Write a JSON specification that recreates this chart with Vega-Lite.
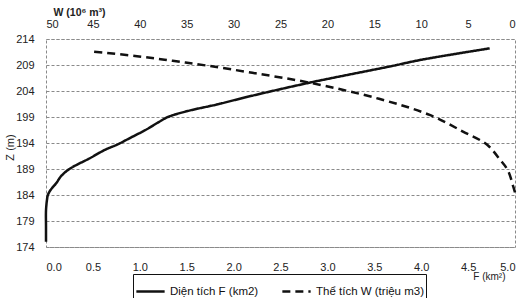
{
  "$schema": "https://vega.github.io/schema/vega-lite/v6.json",
  "width": 469,
  "height": 208,
  "autosize": {"type": "none"},
  "padding": {"left": 46, "top": 39, "right": 15, "bottom": 51},
  "background": "white",
  "config": {
    "view": {"stroke": "#8a8a8a", "strokeDash": [3, 2], "strokeWidth": 1},
    "axis": {
      "labelFont": "Liberation Sans",
      "labelFontSize": 11,
      "labelColor": "#222",
      "titleFont": "Liberation Sans",
      "titleColor": "#222",
      "domain": false,
      "ticks": false,
      "grid": false
    },
    "legend": {
      "labelFont": "Liberation Sans",
      "labelFontSize": 11.5,
      "labelColor": "#111"
    }
  },
  "data": {
    "values": [
      {"series": "Diện tích F (km2)", "z": 175, "v": 0},
      {"series": "Diện tích F (km2)", "z": 178, "v": 0},
      {"series": "Diện tích F (km2)", "z": 181, "v": 0},
      {"series": "Diện tích F (km2)", "z": 183, "v": 0.01},
      {"series": "Diện tích F (km2)", "z": 184, "v": 0.02},
      {"series": "Diện tích F (km2)", "z": 185, "v": 0.05},
      {"series": "Diện tích F (km2)", "z": 186.3, "v": 0.11},
      {"series": "Diện tích F (km2)", "z": 187.6, "v": 0.16},
      {"series": "Diện tích F (km2)", "z": 189, "v": 0.25},
      {"series": "Diện tích F (km2)", "z": 191.1, "v": 0.47},
      {"series": "Diện tích F (km2)", "z": 192.7, "v": 0.63},
      {"series": "Diện tích F (km2)", "z": 193.7, "v": 0.76},
      {"series": "Diện tích F (km2)", "z": 195, "v": 0.9},
      {"series": "Diện tích F (km2)", "z": 196.6, "v": 1.07},
      {"series": "Diện tích F (km2)", "z": 198, "v": 1.2},
      {"series": "Diện tích F (km2)", "z": 199, "v": 1.3},
      {"series": "Diện tích F (km2)", "z": 200.1, "v": 1.5},
      {"series": "Diện tích F (km2)", "z": 201.4, "v": 1.82},
      {"series": "Diện tích F (km2)", "z": 203.1, "v": 2.2},
      {"series": "Diện tích F (km2)", "z": 205.6, "v": 2.81},
      {"series": "Diện tích F (km2)", "z": 208.7, "v": 3.66},
      {"series": "Diện tích F (km2)", "z": 210, "v": 4.0},
      {"series": "Diện tích F (km2)", "z": 212.2, "v": 4.73},
      {"series": "Thể tích W (triệu m3)", "z": 184.5, "v": 0},
      {"series": "Thể tích W (triệu m3)", "z": 185.7, "v": 0.2},
      {"series": "Thể tích W (triệu m3)", "z": 188.7, "v": 0.75},
      {"series": "Thể tích W (triệu m3)", "z": 190.8, "v": 1.6},
      {"series": "Thể tích W (triệu m3)", "z": 193.7, "v": 3.0},
      {"series": "Thể tích W (triệu m3)", "z": 196.2, "v": 5.55},
      {"series": "Thể tích W (triệu m3)", "z": 199.4, "v": 9.1},
      {"series": "Thể tích W (triệu m3)", "z": 202.5, "v": 14.5},
      {"series": "Thể tích W (triệu m3)", "z": 205.6, "v": 21.9},
      {"series": "Thể tích W (triệu m3)", "z": 207.5, "v": 28.0},
      {"series": "Thể tích W (triệu m3)", "z": 208.9, "v": 32.9},
      {"series": "Thể tích W (triệu m3)", "z": 209.8, "v": 36.5},
      {"series": "Thể tích W (triệu m3)", "z": 210.7, "v": 40.3},
      {"series": "Thể tích W (triệu m3)", "z": 211.6, "v": 45.1}
    ]
  },
  "encoding": {
    "y": {
      "field": "z",
      "type": "quantitative",
      "scale": {"domain": [174, 214], "nice": false, "zero": false},
      "axis": {
        "values": [174, 179, 184, 189, 194, 199, 204, 209, 214],
        "grid": true,
        "gridColor": "#8a8a8a",
        "gridDash": [3, 2],
        "gridWidth": 1,
        "labelPadding": 12,
        "title": "Z (m)",
        "titleFontSize": 11,
        "titleFontWeight": "normal",
        "titleX": -36,
        "titleY": 108,
        "titleAlign": "center",
        "titleBaseline": "middle",
        "titleAngle": -90
      }
    },
    "order": {"field": "z", "type": "quantitative"},
    "strokeDash": {
      "field": "series",
      "type": "nominal",
      "scale": {
        "domain": ["Diện tích F (km2)", "Thể tích W (triệu m3)"],
        "range": [[1, 0], [8, 5]]
      },
      "legend": {
        "title": null,
        "orient": "none",
        "legendX": 87,
        "legendY": 235,
        "direction": "horizontal",
        "strokeColor": "#111",
        "padding": 2,
        "symbolType": "stroke",
        "symbolStrokeWidth": 2.5,
        "symbolStrokeColor": "#111",
        "symbolSize": 800,
        "columnPadding": 18,
        "labelOffset": 4
      }
    }
  },
  "layer": [
    {
      "transform": [{"filter": "datum.series === 'Diện tích F (km2)'"}],
      "mark": {"type": "line", "strokeWidth": 2.5, "color": "#111", "interpolate": "catmull-rom"},
      "encoding": {
        "x": {
          "field": "v",
          "type": "quantitative",
          "scale": {"domain": [0, 5], "nice": false},
          "axis": {
            "orient": "bottom",
            "values": [0, 0.5, 1, 1.5, 2, 2.5, 3, 3.5, 4, 4.5, 5],
            "format": ".1f",
            "labelPadding": 14,
            "title": "F (km²)",
            "titleFontSize": 10,
            "titleFontWeight": "normal",
            "titleX": 459,
            "titleY": 32,
            "titleAlign": "right",
            "titleBaseline": "alphabetic"
          }
        }
      }
    },
    {
      "transform": [{"filter": "datum.series === 'Thể tích W (triệu m3)'"}],
      "mark": {"type": "line", "strokeWidth": 2.5, "color": "#111", "interpolate": "catmull-rom"},
      "encoding": {
        "x": {
          "field": "v",
          "type": "quantitative",
          "scale": {"domain": [0, 50], "nice": false, "reverse": true},
          "axis": {
            "orient": "top",
            "values": [0, 5, 10, 15, 20, 25, 30, 35, 40, 45, 50],
            "labelPadding": 10,
            "title": "W (10⁶ m³)",
            "titleFontSize": 10.5,
            "titleFontWeight": "bold",
            "titleX": 7,
            "titleY": -24,
            "titleAlign": "left",
            "titleBaseline": "alphabetic"
          }
        }
      }
    }
  ],
  "resolve": {"scale": {"x": "independent"}}
}
